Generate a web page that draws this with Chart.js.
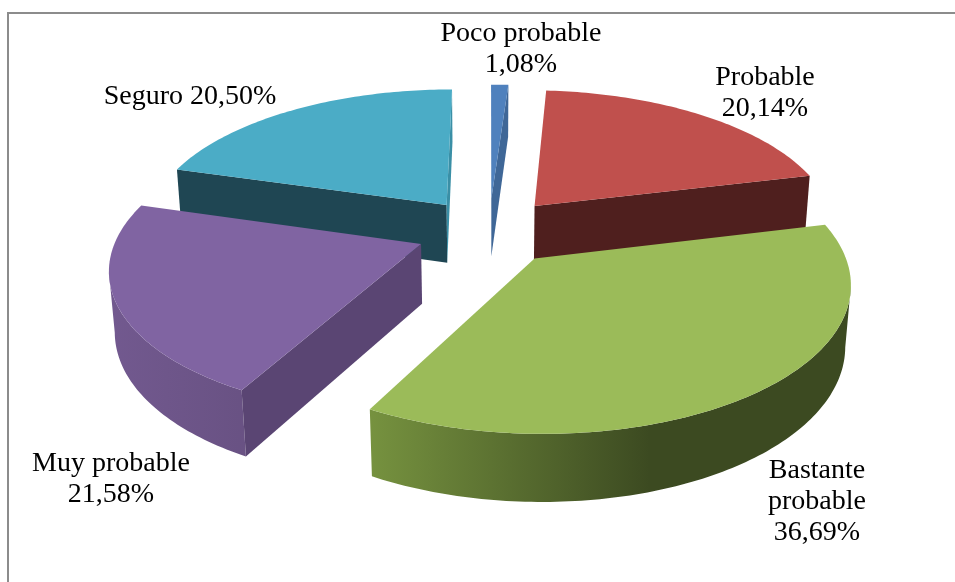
<!DOCTYPE html>
<html lang="es">
<head>
<meta charset="utf-8">
<title>Probabilidad</title>
<script src="https://cdn.jsdelivr.net/npm/chart.js@4"></script>
<style>
    html, body { margin: 0; padding: 0; background: #fff; overflow: hidden; }
    #wrap { position: relative; width: 955px; height: 582px; overflow: hidden; }
    #frame { position: absolute; left: 7px; top: 12px; width: 1000px; height: 640px; border: 2px solid #8c8c8c; }
    canvas { position: absolute; left: 0; top: 0; }
</style>
</head>
<body>
<div id="wrap">
    <div id="frame"></div>
    <canvas id="pie" width="955" height="582"></canvas>
</div>
<script>
// Chart data
const categories = ['Poco probable', 'Probable', 'Bastante probable', 'Muy probable', 'Seguro'];
const percentages = [1.08, 20.14, 36.69, 21.58, 20.50];
const labelRows = [['Poco probable', '%v'], ['Probable', '%v'], ['Bastante', 'probable', '%v'], ['Muy probable', '%v'], ['Seguro %v']];

// Slice colours
const topColors = ['#4f81bd', '#c0504d', '#9bbb59', '#8064a2', '#4bacc6'];
const startFaceColors = ['#3f6797', '#4f1f1e', '#3d4a22', '#5a4573', '#1f4653'];
const endFaceColors = ['#3f6797', '#4f1f1e', '#3d4a22', '#5a4573', '#3a8fa6'];
const wallLeftColors = ['#3f6797', '#4f1f1e', '#76923f', '#72598f', '#1f4653'];
const wallRightColors = ['#3f6797', '#4f1f1e', '#3c4a21', '#5f4a77', '#1f4653'];

// Label anchors (centre of the first row, in canvas pixels)
const labelAnchors = [[521, 34], [765, 78], [817, 471], [111, 464], [190, 97]];
const LINE_HEIGHT = 31;

// 3D look: tilt and perspective applied to the flat pie
const STRETCH_X = 1.21;
const STRETCH_Y = 0.56;
const PERSPECTIVE = 0.15;
const DEPTH = 0.24;
const DEPTH_SHRINK = 0.015;

function project(el, x, y, z) {
    const r = el.outerRadius;
    const w = 1 + PERSPECTIVE * y + DEPTH_SHRINK * z;
    return {
        x: el.x + r * STRETCH_X * x / w,
        y: el.y + r * (DEPTH * z - STRETCH_Y * y) / w
    };
}

// Flat disc coordinates of a slice, with its explode offset applied
function sliceGeometry(el) {
    const start = el.startAngle + Math.PI / 2;
    const end = el.endAngle + Math.PI / 2;
    const mid = (start + end) / 2;
    const off = el.options.offset / el.outerRadius;
    const ax = Math.sin(mid) * off;
    const ay = Math.cos(mid) * off;
    const rim = [];
    const steps = Math.max(2, Math.ceil((end - start) / (Math.PI / 180)));
    for (let i = 0; i <= steps; i++) {
        const t = start + (end - start) * i / steps;
        rim.push({ t, x: ax + Math.sin(t), y: ay + Math.cos(t) });
    }
    return { start, end, ax, ay, rim };
}

function fillPoly(ctx, pts, style) {
    ctx.beginPath();
    pts.forEach((p, i) => (i ? ctx.lineTo(p.x, p.y) : ctx.moveTo(p.x, p.y)));
    ctx.closePath();
    ctx.fillStyle = style;
    ctx.fill();
}

function drawRadialFace(ctx, el, g, edge, normal, color) {
    const camY = -1 / PERSPECTIVE;
    const facing = (0 - g.ax) * normal.x + (camY - g.ay) * normal.y;
    if (facing <= 0) return;
    fillPoly(ctx, [
        project(el, g.ax, g.ay, 0),
        project(el, edge.x, edge.y, 0),
        project(el, edge.x, edge.y, 1),
        project(el, g.ax, g.ay, 1)
    ], color);
}

function drawOuterWall(ctx, el, g, index) {
    const camY = -1 / PERSPECTIVE;
    const seen = g.rim.filter(p => (0 - p.x) * Math.sin(p.t) + (camY - p.y) * Math.cos(p.t) > 0);
    if (seen.length < 2) return;
    const upper = seen.map(p => project(el, p.x, p.y, 0));
    const lower = seen.map(p => project(el, p.x, p.y, 1)).reverse();
    const xs = upper.map(p => p.x);
    const grad = ctx.createLinearGradient(Math.min(...xs), 0, Math.min(...xs) + 280, 0);
    grad.addColorStop(0, wallLeftColors[index]);
    grad.addColorStop(1, wallRightColors[index]);
    fillPoly(ctx, upper.concat(lower), grad);
}

// Replaces the flat arcs with extruded, tilted slices
const pie3d = {
    id: 'pie3d',
    beforeDatasetsDraw(chart) {
        const ctx = chart.ctx;
        const arcs = chart.getDatasetMeta(0).data;
        const order = arcs.map((el, i) => ({ el, i, g: sliceGeometry(el) }))
            .sort((a, b) => b.g.ay - a.g.ay);
        ctx.save();
        order.forEach(({ el, i, g }) => {
            const first = g.rim[0];
            const last = g.rim[g.rim.length - 1];
            drawOuterWall(ctx, el, g, i);
            drawRadialFace(ctx, el, g, first, { x: -Math.cos(g.start), y: Math.sin(g.start) }, startFaceColors[i]);
            drawRadialFace(ctx, el, g, last, { x: Math.cos(g.end), y: -Math.sin(g.end) }, endFaceColors[i]);
            const top = [project(el, g.ax, g.ay, 0)].concat(g.rim.map(p => project(el, p.x, p.y, 0)));
            fillPoly(ctx, top, topColors[i]);
        });
        ctx.restore();
        return false;
    },
    afterDraw(chart) {
        const ctx = chart.ctx;
        ctx.save();
        ctx.font = '28px "Liberation Serif"';
        ctx.fillStyle = '#000';
        ctx.textAlign = 'center';
        ctx.textBaseline = 'middle';
        labelRows.forEach((rows, i) => {
            const value = percentages[i].toFixed(2).replace('.', ',') + '%';
            rows.forEach((row, n) => {
                ctx.fillText(row.replace('%v', value), labelAnchors[i][0], labelAnchors[i][1] + n * LINE_HEIGHT);
            });
        });
        ctx.restore();
    }
};

new Chart(document.getElementById('pie').getContext('2d'), {
    type: 'pie',
    data: {
        labels: categories,
        datasets: [{
            data: percentages,
            backgroundColor: topColors,
            borderWidth: 0,
            offset: 60
        }]
    },
    options: {
        responsive: false,
        animation: false,
        radius: 250,
        layout: { padding: { left: 23, right: 0, top: 0, bottom: 120 } },
        plugins: { legend: { display: false }, tooltip: { enabled: false } }
    },
    plugins: [pie3d]
});
</script>
</body>
</html>
